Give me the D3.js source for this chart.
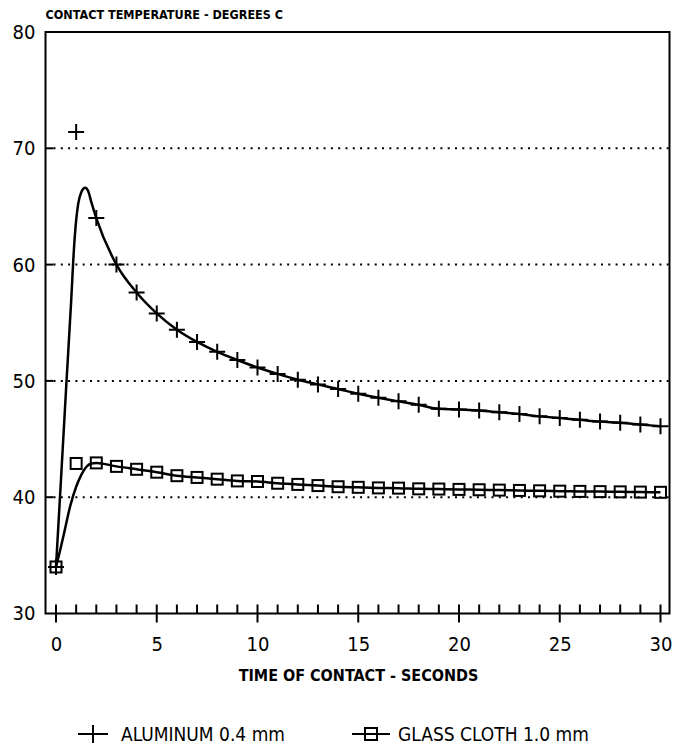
<!DOCTYPE html>
<html>
<head>
<meta charset="utf-8">
<script src="https://cdn.jsdelivr.net/npm/d3@7"></script>
<style>
  body { margin: 0; background: #fff; }
  text { font-family: "DejaVu Sans Condensed", "DejaVu Sans", sans-serif; fill: #000; }
</style>
</head>
<body>
<svg width="673" height="745"></svg>
<script>
// data
const seconds = [0, 1, 2, 3, 4, 5, 6, 7, 8, 9, 10, 11, 12, 13, 14, 15, 16, 17, 18, 19, 20, 21, 22, 23, 24, 25, 26, 27, 28, 29, 30]
const aluminumMarks = [34.0, 71.4, 64.0, 60.0, 57.6, 55.8, 54.4, 53.35, 52.5, 51.8, 51.15, 50.6, 50.1, 49.7, 49.3, 48.9, 48.55, 48.25, 47.95, 47.6, 47.55, 47.45, 47.3, 47.15, 46.95, 46.8, 46.65, 46.5, 46.4, 46.25, 46.1]
const glassMarks = [34.0, 42.9, 42.95, 42.65, 42.4, 42.15, 41.85, 41.7, 41.55, 41.4, 41.35, 41.2, 41.1, 41.0, 40.9, 40.85, 40.8, 40.78, 40.72, 40.7, 40.67, 40.64, 40.61, 40.58, 40.55, 40.52, 40.5, 40.48, 40.46, 40.44, 40.42]

// the fitted curves leave the marks during the first two seconds
const aluminumRiseT = [0, 0.25, 0.5, 0.75, 0.9, 1.0, 1.1, 1.25, 1.45, 1.6, 1.75]
const aluminumRiseV = [34, 41.6, 49.3, 56.8, 61.6, 63.8, 65.2, 66.2, 66.6, 66.3, 65.4]
const glassRiseT = [0, 0.2, 0.4, 0.7, 1.0, 1.25, 1.5, 1.75]
const glassRiseV = [34, 35.4, 36.9, 39.2, 40.9, 41.9, 42.6, 42.9]

const xTicks = [0, 5, 10, 15, 20, 25, 30]
const yTicks = [30, 40, 50, 60, 70, 80]
const gridValues = [40, 50, 60, 70]

const svg = d3.select('svg')
const frameLeft = 45.5
const frameRight = 669.5

const x = d3.scaleLinear().domain([0, 30]).range([56, 660.5])
const y = d3.scaleLinear().domain([30, 80]).range([613.5, 32])

// curves: rise points, then the marks from 2 s on
const curveOf = (riseT, riseV, marks) =>
  riseT.map((t, i) => [t, riseV[i]])
    .concat(seconds.filter(s => s >= 2).map(s => [s, marks[s]]))

const line = d3.line()
  .x(d => x(d[0]))
  .y(d => y(d[1]))
  .curve(d3.curveMonotoneX)

// dotted grid
svg.append('g').selectAll('line').data(gridValues)
  .enter().append('line')
    .attr('x1', frameLeft + 8).attr('x2', frameRight)
    .attr('y1', d => y(d)).attr('y2', d => y(d))
    .attr('stroke', '#000').attr('stroke-width', 2)
    .attr('stroke-dasharray', '2,5.3')

// short inner ticks on the y axis
svg.append('g').selectAll('line').data(gridValues)
  .enter().append('line')
    .attr('x1', frameLeft).attr('x2', frameLeft + 8)
    .attr('y1', d => y(d)).attr('y2', d => y(d))
    .attr('stroke', '#000').attr('stroke-width', 2)

// frame
svg.append('rect')
  .attr('x', frameLeft).attr('y', y(80))
  .attr('width', frameRight - frameLeft).attr('height', y(30) - y(80))
  .attr('fill', 'none').attr('stroke', '#000').attr('stroke-width', 2)

// x ticks: minor inside, major crossing the axis
svg.append('g').selectAll('line').data(seconds)
  .enter().append('line')
    .attr('x1', d => x(d)).attr('x2', d => x(d))
    .attr('y1', y(30) - 9)
    .attr('y2', d => d % 5 === 0 ? y(30) + 9 : y(30))
    .attr('stroke', '#000').attr('stroke-width', 2)

// tick labels
const xAxis = svg.append('g')
  .attr('transform', `translate(0,${y(30)})`)
  .call(d3.axisBottom(x).tickValues(xTicks).tickSize(0).tickPadding(23))
xAxis.select('.domain').remove()
xAxis.selectAll('text').attr('font-size', 20).attr('font-family', null)

const yAxis = svg.append('g')
  .attr('transform', `translate(${frameLeft},0)`)
  .call(d3.axisLeft(y).tickValues(yTicks).tickSize(0).tickPadding(10))
yAxis.select('.domain').remove()
yAxis.selectAll('text').attr('font-size', 20).attr('font-family', null)

// titles
svg.append('text')
  .attr('x', frameLeft).attr('y', 19)
  .attr('font-size', 12.5).attr('font-weight', 'bold')
  .text('CONTACT TEMPERATURE - DEGREES C')

svg.append('text')
  .attr('x', (frameLeft + frameRight) / 2 + 1).attr('y', 681)
  .attr('text-anchor', 'middle')
  .attr('font-size', 16).attr('font-weight', 'bold')
  .text('TIME OF CONTACT - SECONDS')

// lines
svg.append('path')
  .datum(curveOf(aluminumRiseT, aluminumRiseV, aluminumMarks))
  .attr('d', line)
  .attr('fill', 'none').attr('stroke', '#000').attr('stroke-width', 2.5)

svg.append('path')
  .datum(curveOf(glassRiseT, glassRiseV, glassMarks))
  .attr('d', line)
  .attr('fill', 'none').attr('stroke', '#000').attr('stroke-width', 2.5)

// markers
const plusPath = 'M-8,0H8M0,-8V8'
svg.append('g').selectAll('path').data(seconds)
  .enter().append('path')
    .attr('transform', d => `translate(${x(d)},${y(aluminumMarks[d])})`)
    .attr('d', plusPath)
    .attr('fill', 'none').attr('stroke', '#000').attr('stroke-width', 2)

svg.append('g').selectAll('rect').data(seconds)
  .enter().append('rect')
    .attr('x', d => x(d) - 5.5).attr('y', d => y(glassMarks[d]) - 5.5)
    .attr('width', 11).attr('height', 11)
    .attr('fill', 'none').attr('stroke', '#000').attr('stroke-width', 2)

// legend
const legendY = 734
const legend = svg.append('g')
legend.append('line')
  .attr('x1', 78).attr('x2', 108).attr('y1', legendY).attr('y2', legendY)
  .attr('stroke', '#000').attr('stroke-width', 2)
legend.append('line')
  .attr('x1', 93).attr('x2', 93).attr('y1', legendY - 9).attr('y2', legendY + 9)
  .attr('stroke', '#000').attr('stroke-width', 2)
legend.append('text')
  .attr('x', 121).attr('y', legendY + 7)
  .attr('font-size', 19)
  .text('ALUMINUM 0.4 mm')

legend.append('line')
  .attr('x1', 352).attr('x2', 390).attr('y1', legendY).attr('y2', legendY)
  .attr('stroke', '#000').attr('stroke-width', 2)
legend.append('rect')
  .attr('x', 371 - 6).attr('y', legendY - 6).attr('width', 12).attr('height', 12)
  .attr('fill', 'none').attr('stroke', '#000').attr('stroke-width', 2)
legend.append('text')
  .attr('x', 398).attr('y', legendY + 7)
  .attr('font-size', 19)
  .text('GLASS CLOTH 1.0 mm')
</script>
</body>
</html>
